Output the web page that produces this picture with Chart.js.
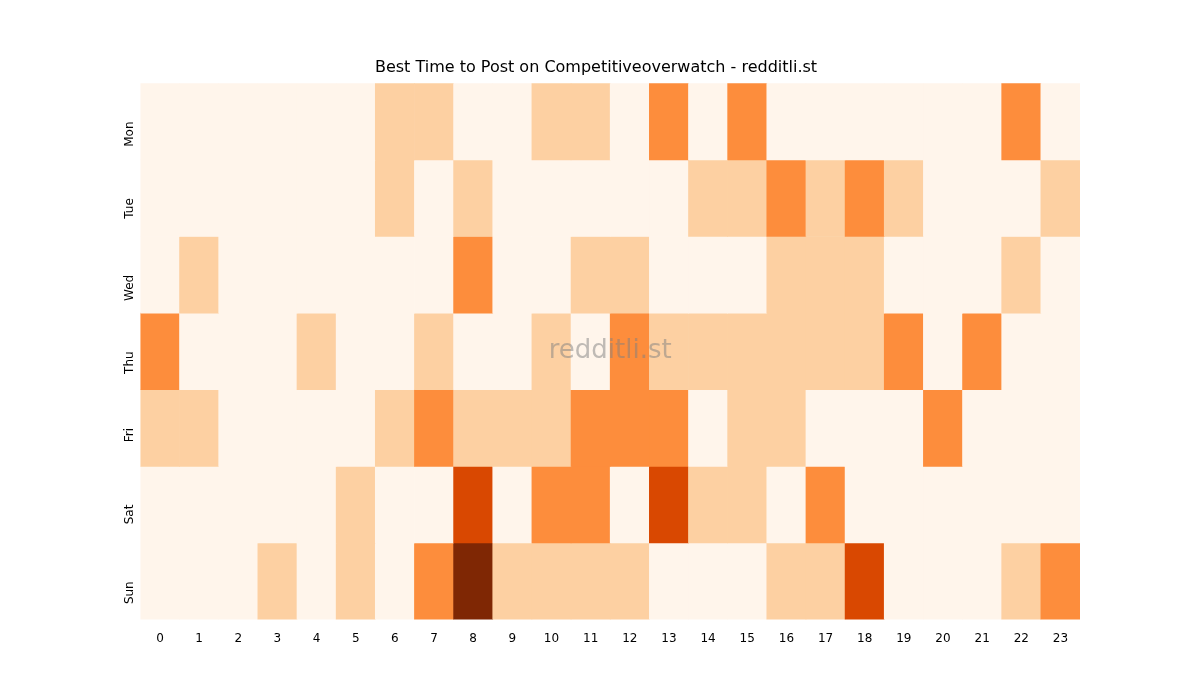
<!DOCTYPE html>
<html>
<head>
<meta charset="utf-8">
<script src="https://cdn.jsdelivr.net/npm/chart.js@4"></script>
<style>
  html, body { margin: 0; padding: 0; background: #fff; }
  #wrap { width: 1200px; height: 700px; }
</style>
</head>
<body>
<div id="wrap"><canvas id="c"></canvas></div>
<script>
const hours = ['0','1','2','3','4','5','6','7','8','9','10','11','12','13','14','15','16','17','18','19','20','21','22','23'];
const days = ['Mon', 'Tue', 'Wed', 'Thu', 'Fri', 'Sat', 'Sun'];
// activity level per hour (0 = lowest, 4 = highest)
const mon = [0,0,0,0,0,0,1,1,0,0,1,1,0,2,0,2,0,0,0,0,0,0,2,0];
const tue = [0,0,0,0,0,0,1,0,1,0,0,0,0,0,1,1,2,1,2,1,0,0,0,1];
const wed = [0,1,0,0,0,0,0,0,2,0,0,1,1,0,0,0,1,1,1,0,0,0,1,0];
const thu = [2,0,0,0,1,0,0,1,0,0,1,0,2,1,1,1,1,1,1,2,0,2,0,0];
const fri = [1,1,0,0,0,0,1,2,1,1,1,2,2,2,0,1,1,0,0,0,2,0,0,0];
const sat = [0,0,0,0,0,1,0,0,3,0,2,2,0,3,1,1,0,2,0,0,0,0,0,0];
const sun = [0,0,0,1,0,1,0,2,4,1,1,1,1,0,0,0,1,1,3,0,0,0,1,2];
const rows = [mon, tue, wed, thu, fri, sat, sun];
const palette = ['#fff5eb', '#fdd0a2', '#fd8d3c', '#d94801', '#7f2704'];

const datasets = rows.map((vals, d) => ({
  label: days[d],
  data: vals.map(() => [d, d + 1]),
  backgroundColor: vals.map(v => palette[v]),
  borderWidth: 0,
  barPercentage: 1.0,
  categoryPercentage: 1.0,
  grouped: false
}));

const watermark = {
  id: 'watermark',
  afterDatasetsDraw(chart) {
    const { ctx, chartArea: a } = chart;
    ctx.save();
    ctx.font = '26px "DejaVu Sans"';
    ctx.fillStyle = 'rgba(128,128,128,0.5)';
    ctx.textAlign = 'center';
    ctx.textBaseline = 'middle';
    ctx.fillText('redditli.st', (a.left + a.right) / 2, (a.top + a.bottom) / 2);
    ctx.restore();
  }
};

Chart.defaults.font.family = '"DejaVu Sans", sans-serif';
Chart.defaults.color = '#000';

new Chart(document.getElementById('c'), {
  type: 'bar',
  data: { labels: hours, datasets },
  plugins: [watermark],
  options: {
    responsive: true,
    maintainAspectRatio: false,
    animation: false,
    layout: { padding: { left: 112, right: 120, top: 0, bottom: 50 } },
    plugins: {
      legend: { display: false },
      tooltip: { enabled: false },
      title: {
        display: true,
        text: 'Best Time to Post on Competitiveoverwatch - redditli.st',
        font: { size: 16, weight: 'normal' },
        color: '#000',
        padding: { top: 58, bottom: 6 }
      }
    },
    scales: {
      x: {
        grid: { display: false, drawTicks: true },
        border: { display: false },
        ticks: { font: { size: 12 }, color: '#000', maxRotation: 0, padding: 4 }
      },
      y: {
        min: 0, max: 7, reverse: true,
        grid: { display: false },
        border: { display: false },
        afterBuildTicks(axis) {
          axis.ticks = days.map((_, i) => ({ value: i + 0.5 }));
        },
        ticks: {
          font: { size: 12 }, color: '#000',
          minRotation: 90, maxRotation: 90,
          callback: (v) => days[Math.floor(v)]
        }
      }
    }
  }
});
</script>
</body>
</html>
